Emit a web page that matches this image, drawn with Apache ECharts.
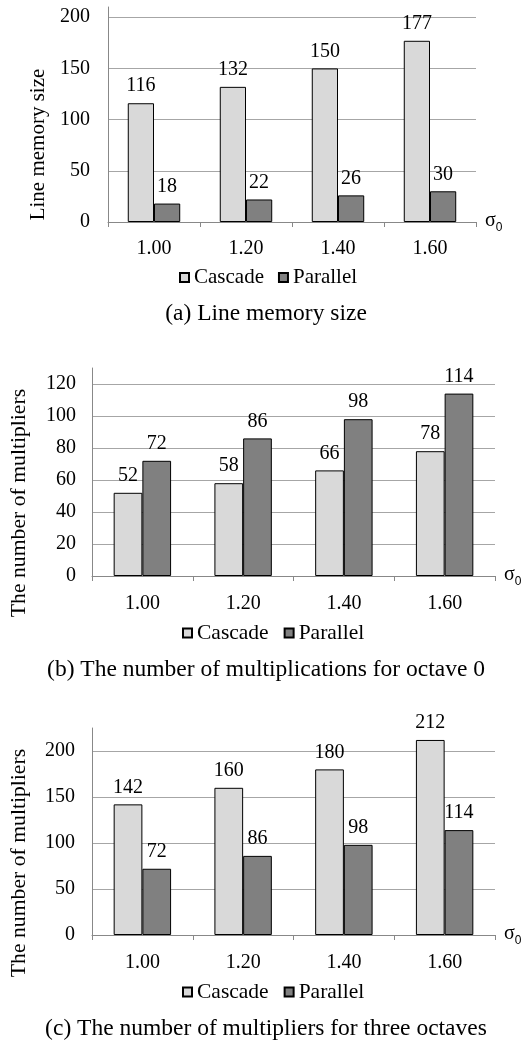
<!DOCTYPE html>
<html>
<head>
<meta charset="utf-8">
<script src="https://cdn.jsdelivr.net/npm/echarts@6/dist/echarts.min.js"></script>
<style>
html,body{margin:0;padding:0;background:#fff;}
#c{width:532px;height:1044px;}
</style>
</head>
<body>
<div id="c"></div>
<script>
const categories = ['1.00', '1.20', '1.40', '1.60'];
const seriesNames = ['Cascade', 'Parallel'];
const memCascade = [116, 132, 150, 177];
const memParallel = [18, 22, 26, 30];
const oct0Cascade = [52, 58, 66, 78];
const oct0Parallel = [72, 86, 98, 114];
const threeCascade = [142, 160, 180, 212];
const threeParallel = [72, 86, 98, 114];
const yNames = ['Line memory size', 'The number of multipliers', 'The number of multipliers'];
const captions = ['(a) Line memory size', '(b) The number of multiplications for octave 0', '(c) The number of multipliers for three octaves'];
const yMax = [210, 130, 225];
const yInterval = [50, 20, 50];

const FONT = '"Liberation Serif", "Times New Roman", serif';
const grids = [
  {left: 108, width: 368, top: 7, height: 215},
  {left: 91, width: 404, top: 368, height: 208},
  {left: 91, width: 404, top: 728, height: 207}
];
const nameGaps = [55, 62, 62];
const nameSize = [21, 21.7, 21.7];
const namePad = [60, 62, 63];
const yLabelMargin = [18, 16, 17];
const xLabelMargin = [17, 18, 18];
const legendPos = [{left: 179, top: 267}, {left: 182, top: 622}, {left: 182, top: 981}];
const legendSize = [21, 21.5, 21.5];
const legendGap = [14, 15, 15];
const captionTop = [302, 658, 1017];

const cols = {Cascade: '#d9d9d9', Parallel: '#808080'};
const data = [[memCascade, memParallel], [oct0Cascade, oct0Parallel], [threeCascade, threeParallel]];

const option = {
  animation: false,
  backgroundColor: '#fff',
  textStyle: {fontFamily: FONT, color: '#000'},
  grid: grids,
  title: captions.map((t, i) => ({
    text: t, left: 'center', top: captionTop[i], padding: 0,
    textStyle: {fontFamily: FONT, fontSize: 23.5, fontWeight: 'normal', color: '#000'}
  })),
  legend: [0, 1, 2].map(i => ({
    data: seriesNames.map(n => ({name: n, icon: 'rect'})),
    left: legendPos[i].left, top: legendPos[i].top, padding: 0,
    itemWidth: 9, itemHeight: 9, itemGap: legendGap[i],
    textStyle: {fontFamily: FONT, fontSize: legendSize[i], color: '#000'},
    selectedMode: false
  })),
  xAxis: [0, 1, 2].map(i => ({
    type: 'category', gridIndex: i, data: categories,
    axisLine: {lineStyle: {color: '#888', width: 1}},
    axisTick: {show: true, length: 5, lineStyle: {color: '#888'}},
    axisLabel: {fontFamily: FONT, fontSize: 20, color: '#000', margin: xLabelMargin[i]},
    name: '{s|σ}{sub|0}', nameLocation: 'end', nameGap: 9,
    nameTextStyle: {
      rich: {
        s: {fontFamily: FONT, fontSize: 20, color: '#000', verticalAlign: 'bottom', padding: [0, 0, 3, 0]},
        sub: {fontFamily: '"Liberation Sans", Arial, sans-serif', fontSize: 12, color: '#000', verticalAlign: 'bottom'}
      }
    }
  })),
  yAxis: [0, 1, 2].map(i => ({
    type: 'value', gridIndex: i, min: 0, max: yMax[i], interval: yInterval[i],
    axisLine: {show: true, lineStyle: {color: '#888', width: 1}},
    axisTick: {show: false},
    axisLabel: {fontFamily: FONT, fontSize: 20, color: '#000', margin: yLabelMargin[i], showMaxLabel: false},
    splitLine: {show: true, showMaxLine: false, lineStyle: {color: '#a6a6a6', width: 1}},
    name: yNames[i], nameLocation: 'middle', nameRotate: 90, nameGap: nameGaps[i],
    nameTextStyle: {fontFamily: FONT, fontSize: nameSize[i], color: '#000', padding: [0, namePad[i], 0, 0]}
  })),
  series: []
};

for (let i = 0; i < 3; i++) {
  seriesNames.forEach((n, k) => {
    option.series.push({
      type: 'bar', name: n, xAxisIndex: i, yAxisIndex: i,
      data: data[i][k],
      barGap: '0%', barCategoryGap: '43%',
      itemStyle: {color: cols[n], borderColor: '#000', borderWidth: 1},
      label: {show: true, position: 'top', distance: 7, fontFamily: FONT, fontSize: 20, color: '#000'}
    });
  });
}

const chart = echarts.init(document.getElementById('c'), null, {renderer: 'canvas'});
chart.setOption(option);
</script>
</body>
</html>
